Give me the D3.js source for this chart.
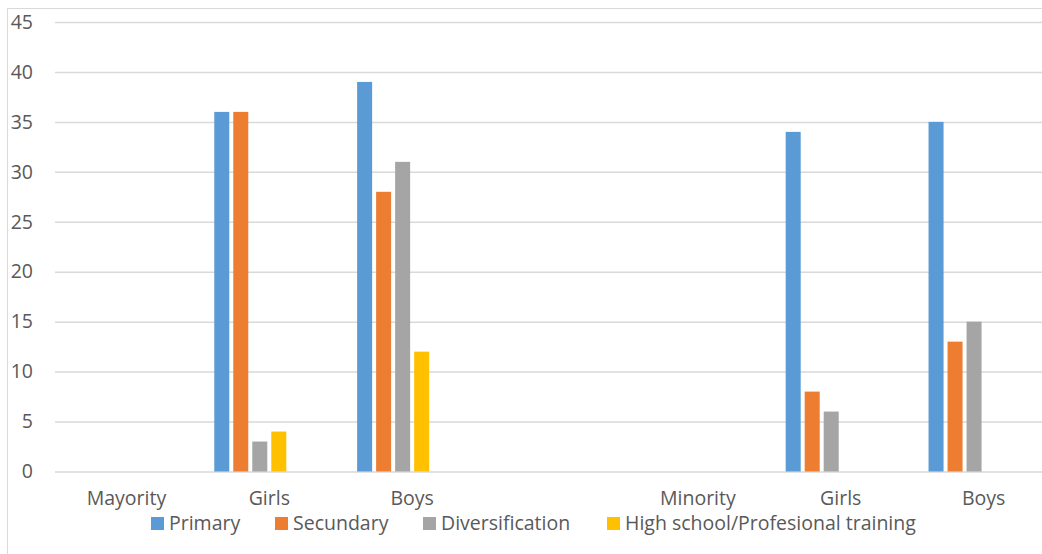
<!DOCTYPE html>
<html>
<head>
<meta charset="utf-8">
<script src="https://cdn.jsdelivr.net/npm/d3@7/dist/d3.min.js"></script>
<style>
  html, body { margin: 0; padding: 0; background: #fff; overflow: hidden; }
  svg { display: block; }
  text { font-family: "Open Sans", "Noto Sans", sans-serif; fill: #595959; }
</style>
</head>
<body>
<svg id="chart" width="1042" height="554"></svg>
<script>
// ---- data ----
const categories = ["Mayority", "Girls", "Boys", "", "Minority", "Girls", "Boys"];
const seriesNames = ["Primary", "Secundary", "Diversification", "High school/Profesional training", "", ""];
const seriesColors = ["#5b9bd5", "#ed7d31", "#a5a5a5", "#ffc000", "#4472c4", "#70ad47"];
const primary         = [null, 36, 39, null, null, 34, 35];
const secundary       = [null, 36, 28, null, null, 8, 13];
const diversification = [null, 3, 31, null, null, 6, 15];
const highSchool      = [null, 4, 12, null, null, null, null];
const emptySeries5    = [null, null, null, null, null, null, null];
const emptySeries6    = [null, null, null, null, null, null, null];
const yTicks = [0, 5, 10, 15, 20, 25, 30, 35, 40, 45];

const seriesValues = [primary, secundary, diversification, highSchool, emptySeries5, emptySeries6];

// ---- layout ----
const svg = d3.select("#chart");
const plotLeft = 55, plotRight = 1055, plotTop = 22, plotBottom = 471.5;
const fontSize = 19.5;

// chart border
svg.append("rect").attr("x", 7.5).attr("y", 8.5).attr("width", 1100).attr("height", 600)
  .attr("fill", "none").attr("stroke", "#d9d9d9").attr("stroke-width", 1);

const idx = d3.range(categories.length);
const x0 = d3.scaleBand().domain(idx).range([plotLeft, plotRight]).paddingInner(0).paddingOuter(0);
const x1 = d3.scaleBand().domain(d3.range(seriesNames.length)).range([0, x0.bandwidth()])
  .paddingInner(0.21).paddingOuter(0.863);
const y = d3.scaleLinear().domain([0, 45]).range([plotBottom, plotTop]);

// gridlines
const yAxis = d3.axisLeft(y).tickValues(yTicks).tickSize(-(plotRight - plotLeft)).tickPadding(22);
const gy = svg.append("g").attr("transform", `translate(${plotLeft},0)`).call(yAxis);
gy.select(".domain").remove();
gy.selectAll(".tick line").attr("stroke", "#d9d9d9").attr("stroke-width", 1.5);
gy.selectAll(".tick text").attr("font-size", fontSize).attr("fill", "#595959")
  .style("font-family", '"Open Sans", sans-serif');

// bars
seriesValues.forEach((vals, s) => {
  svg.append("g").selectAll("rect")
    .data(idx.filter(i => vals[i] != null))
    .join("rect")
    .attr("x", i => x0(i) + x1(s))
    .attr("width", x1.bandwidth())
    .attr("y", i => y(vals[i]))
    .attr("height", i => y(0) - y(vals[i]))
    .attr("fill", seriesColors[s]);
});

// category axis
const xAxis = d3.axisBottom(x0).tickFormat(i => categories[i]).tickSize(0).tickPadding(20);
const gx = svg.append("g").attr("transform", `translate(0,${plotBottom})`).call(xAxis);
gx.select(".domain").remove();
gx.selectAll(".tick text").attr("font-size", fontSize).attr("fill", "#595959")
  .style("font-family", '"Open Sans", sans-serif');

// legend
const legendX = [151, 275, 423, 607];
const legend = svg.append("g");
seriesNames.forEach((name, s) => {
  if (!name) return;
  const g = legend.append("g").attr("transform", `translate(${legendX[s]},0)`);
  g.append("rect").attr("x", 0).attr("y", 517).attr("width", 13).attr("height", 13).attr("fill", seriesColors[s]);
  g.append("text").attr("x", 18).attr("y", 529.5).attr("font-size", fontSize).text(name);
});
</script>
</body>
</html>
